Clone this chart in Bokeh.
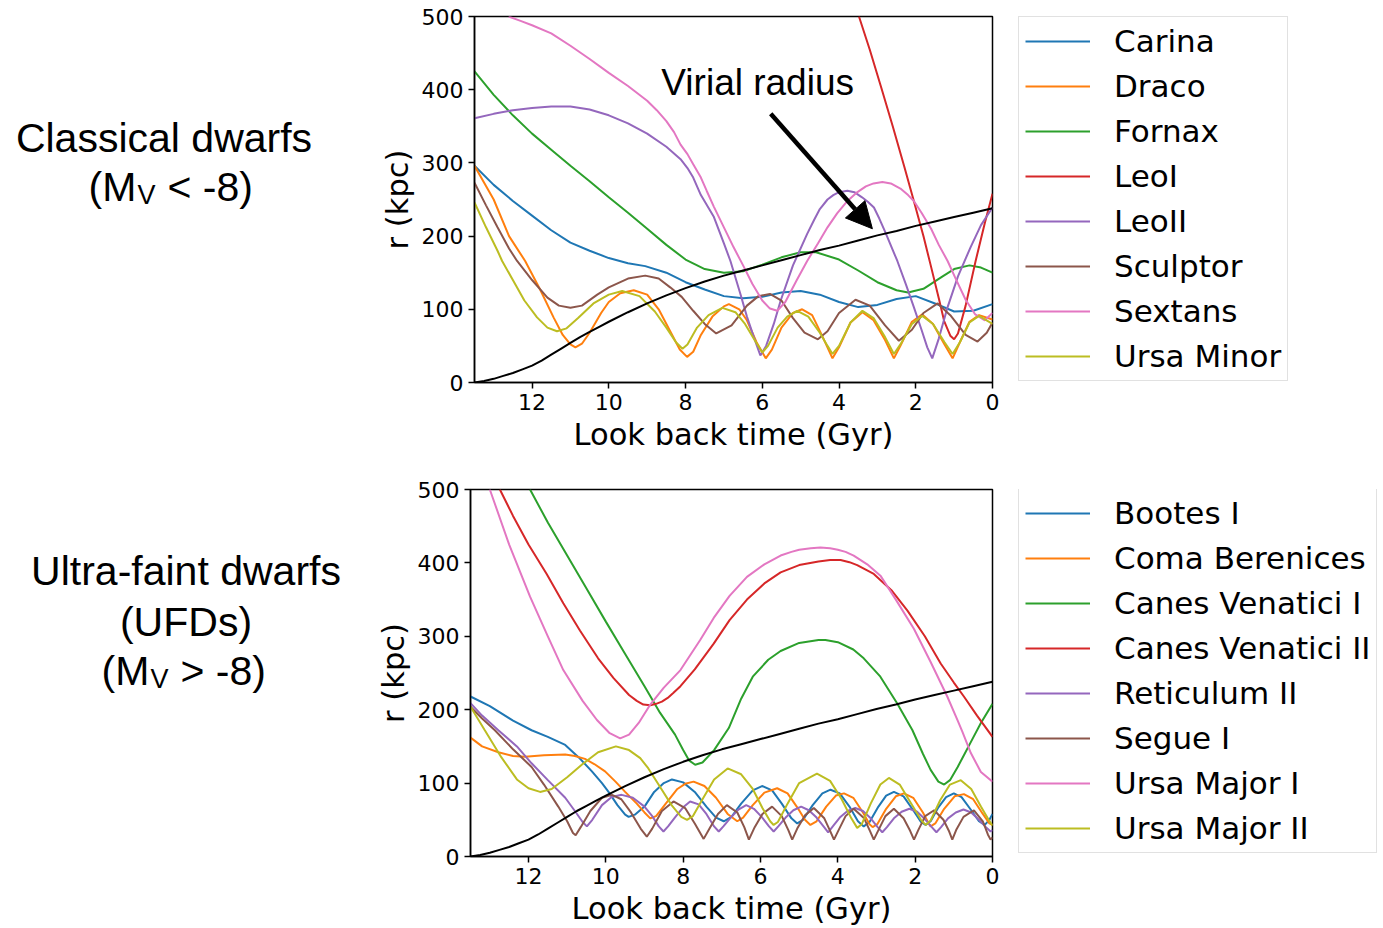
from bokeh.plotting import figure
from bokeh.models import Range1d, FixedTicker, Legend, LegendItem, Arrow, NormalHead, Label
from bokeh.layouts import row, column
from bokeh.embed import file_html
from bokeh.resources import INLINE
from bokeh.core.properties import value

# ---------------------------------------------------------------
# Orbital histories: look-back time (Gyr) and distance r (kpc)
# ---------------------------------------------------------------

# Milky Way virial radius
virial_t = [13.5, 13.25, 13.0, 12.75, 12.5, 12.25, 12.0, 11.75, 11.5, 11.25, 11.0, 10.75, 10.5, 10.25, 10.0, 9.5, 9.0, 8.5, 8.0, 7.5, 7.0, 6.5, 6.0, 5.5, 5.0, 4.5, 4.0, 3.5, 3.0, 2.5, 2.0, 1.5, 1.0, 0.5, 0.0]
virial_r = [0, 2, 5, 9, 13, 18, 23, 30, 38, 46, 54, 62, 69, 76, 83, 96, 108, 119, 129, 138, 146, 153, 160, 167, 174, 181, 187, 194, 201, 207, 214, 220, 226, 232, 238]

# Classical dwarfs
carina_t = [13.5, 13.0, 12.5, 12.0, 11.5, 11.0, 10.5, 10.0, 9.5, 9.05, 8.5, 8.0, 7.5, 7.0, 6.5, 6.0, 5.5, 5.0, 4.5, 4.0, 3.5, 3.0, 2.5, 2.0, 1.5, 1.0, 0.5, 0.0]
carina_r = [296, 270, 248, 228, 208, 191, 180, 170, 163, 159, 150, 137, 127, 118, 115, 117, 123, 125, 120, 110, 103, 106, 114, 118, 108, 97, 98, 107]

draco_t = [13.5, 13.0, 12.6, 12.18, 11.8, 11.44, 11.2, 11.0, 10.87, 10.7, 10.5, 10.2, 10.0, 9.7, 9.35, 9.0, 8.7, 8.4, 8.15, 7.96, 7.8, 7.6, 7.3, 7.0, 6.87, 6.6, 6.4, 6.15, 5.91, 5.75, 5.5, 5.2, 4.96, 4.7, 4.45, 4.17, 4.0, 3.7, 3.39, 3.1, 2.8, 2.57, 2.4, 2.1, 1.83, 1.55, 1.25, 1.04, 0.85, 0.6, 0.35, 0.0]
draco_r = [296, 250, 200, 166, 128, 89, 65, 52, 48, 53, 68, 95, 110, 122, 126, 120, 100, 70, 45, 35, 42, 65, 90, 104, 107, 100, 85, 55, 33, 45, 75, 95, 100, 92, 65, 33, 48, 82, 96, 85, 58, 33, 50, 83, 93, 80, 52, 33, 55, 83, 92, 86]

fornax_t = [13.5, 13.0, 12.5, 12.0, 11.5, 11.0, 10.5, 10.0, 9.5, 9.0, 8.5, 8.0, 7.5, 7.0, 6.5, 6.0, 5.5, 5.0, 4.6, 4.0, 3.5, 3.0, 2.5, 2.2, 1.8, 1.3, 1.0, 0.6, 0.3, 0.0]
fornax_r = [425, 393, 365, 340, 318, 296, 275, 253, 232, 210, 188, 168, 155, 150, 152, 161, 171, 178, 178, 168, 153, 137, 126, 123, 128, 145, 155, 160, 157, 150]

leo1_t = [3.48, 3.2, 2.9, 2.6, 2.3, 2.05, 1.8, 1.61, 1.4, 1.26, 1.1, 1.0, 0.9, 0.7, 0.44, 0.2, 0.0]
leo1_r = [500, 455, 403, 350, 295, 248, 200, 160, 115, 84, 64, 59, 67, 105, 166, 218, 258]

leo2_t = [13.5, 13.0, 12.5, 12.0, 11.5, 11.0, 10.5, 10.0, 9.5, 9.0, 8.5, 8.3, 8.13, 7.95, 7.8, 7.6, 7.26, 7.0, 6.83, 6.57, 6.4, 6.22, 6.05, 5.9, 5.7, 5.52, 5.2, 4.83, 4.65, 4.5, 4.3, 4.15, 4.0, 3.78, 3.6, 3.4, 3.25, 3.09, 2.95, 2.8, 2.48, 2.25, 2.05, 1.85, 1.7, 1.57, 1.4, 1.17, 0.9, 0.57, 0.3, 0.0]
leo2_r = [361, 367, 372, 375, 377, 377, 373, 365, 354, 340, 322, 313, 305, 293, 280, 256, 226, 190, 166, 121, 90, 62, 37, 50, 80, 112, 160, 203, 222, 237, 250, 256, 260, 262, 260, 253, 247, 239, 224, 206, 166, 133, 103, 72, 48, 33, 60, 103, 145, 185, 215, 239]

sculptor_t = [13.5, 13.2, 12.9, 12.6, 12.39, 12.0, 11.6, 11.3, 11.0, 10.7, 10.3, 10.0, 9.5, 9.05, 8.7, 8.4, 8.1, 7.8, 7.5, 7.2, 6.8, 6.4, 6.1, 5.8, 5.5, 5.2, 4.9, 4.55, 4.3, 4.0, 3.57, 3.2, 2.8, 2.44, 2.1, 1.8, 1.43, 1.1, 0.7, 0.39, 0.15, 0.0]
sculptor_r = [273, 242, 212, 183, 166, 140, 116, 105, 102, 105, 120, 130, 142, 146, 142, 130, 117, 98, 80, 67, 78, 105, 118, 121, 112, 88, 68, 59, 70, 95, 113, 105, 78, 57, 72, 95, 108, 92, 65, 56, 68, 82]

sextans_t = [12.61, 12.3, 12.0, 11.5, 11.0, 10.5, 10.0, 9.5, 9.0, 8.75, 8.5, 8.3, 8.13, 7.95, 7.8, 7.6, 7.45, 7.26, 7.0, 6.75, 6.5, 6.26, 6.0, 5.8, 5.61, 5.4, 5.1, 4.83, 4.55, 4.3, 4.05, 3.78, 3.55, 3.3, 3.1, 2.87, 2.65, 2.4, 2.2, 2.05, 1.85, 1.6, 1.4, 1.17, 0.96, 0.7, 0.45, 0.2, 0.0]
sextans_r = [500, 494, 488, 477, 460, 442, 423, 405, 385, 372, 357, 342, 325, 312, 298, 280, 262, 240, 212, 185, 160, 135, 112, 101, 98, 110, 140, 166, 190, 212, 231, 248, 259, 268, 272, 274, 272, 265, 256, 248, 232, 210, 188, 166, 142, 113, 93, 85, 95]

umi_t = [13.5, 13.2, 12.9, 12.78, 12.5, 12.2, 11.87, 11.6, 11.35, 11.1, 10.8, 10.4, 10.0, 9.65, 9.2, 8.8, 8.5, 8.25, 8.08, 7.95, 7.7, 7.4, 7.04, 6.7, 6.45, 6.2, 6.0, 5.85, 5.6, 5.35, 5.09, 4.8, 4.5, 4.3, 4.17, 4.0, 3.7, 3.39, 3.1, 2.8, 2.57, 2.4, 2.1, 1.83, 1.55, 1.25, 1.04, 0.85, 0.6, 0.35, 0.0]
umi_r = [246, 212, 180, 166, 140, 112, 89, 75, 70, 74, 88, 108, 120, 125, 118, 97, 75, 55, 46, 52, 75, 92, 102, 96, 80, 58, 41, 50, 75, 90, 98, 90, 68, 50, 39, 50, 82, 98, 88, 62, 39, 52, 80, 91, 80, 55, 39, 55, 82, 91, 80]

# Ultra-faint dwarfs
boo1_t = [13.5, 13.0, 12.4, 11.92, 11.5, 11.05, 10.7, 10.36, 10.1, 9.93, 9.7, 9.5, 9.41, 9.25, 9.0, 8.75, 8.5, 8.29, 8.0, 7.7, 7.4, 7.15, 6.95, 6.75, 6.5, 6.2, 5.96, 5.7, 5.45, 5.2, 5.05, 4.9, 4.65, 4.4, 4.19, 3.95, 3.7, 3.48, 3.33, 3.18, 2.95, 2.75, 2.55, 2.3, 2.05, 1.85, 1.73, 1.6, 1.4, 1.2, 1.0, 0.8, 0.55, 0.35, 0.2, 0.08, 0.0]
boo1_r = [218, 205, 185, 172, 163, 152, 135, 116, 100, 88, 70, 57, 54, 57, 68, 88, 100, 105, 101, 88, 68, 53, 48, 54, 72, 90, 96, 90, 72, 52, 45, 50, 70, 86, 91, 86, 68, 48, 41, 47, 68, 83, 88, 82, 63, 47, 43, 48, 67, 81, 86, 81, 63, 48, 43, 50, 58]

coma_t = [13.5, 13.2, 12.78, 12.4, 12.09, 11.6, 11.05, 10.8, 10.54, 10.3, 10.02, 9.75, 9.5, 9.2, 9.0, 8.85, 8.7, 8.45, 8.15, 7.95, 7.73, 7.45, 7.15, 6.85, 6.6, 6.45, 6.2, 5.9, 5.57, 5.3, 5.05, 4.85, 4.71, 4.55, 4.3, 4.05, 3.84, 3.6, 3.35, 3.18, 3.1, 2.98, 2.75, 2.5, 2.29, 2.05, 1.8, 1.65, 1.6, 1.48, 1.25, 0.98, 0.74, 0.5, 0.25, 0.08, 0.0]
coma_r = [162, 150, 142, 137, 136, 138, 139, 137, 133, 126, 116, 102, 88, 72, 60, 52, 55, 72, 92, 99, 102, 96, 80, 58, 48, 53, 70, 87, 93, 86, 67, 50, 43, 48, 68, 83, 86, 80, 60, 44, 40, 44, 65, 82, 86, 80, 60, 45, 41, 45, 65, 82, 85, 78, 58, 45, 43]

cvn1_t = [11.96, 11.5, 11.0, 10.5, 10.0, 9.5, 9.0, 8.6, 8.21, 8.0, 7.85, 7.69, 7.5, 7.2, 6.82, 6.5, 6.2, 5.8, 5.48, 5.0, 4.5, 4.32, 4.0, 3.6, 3.33, 2.9, 2.46, 2.07, 1.8, 1.6, 1.4, 1.25, 1.1, 0.9, 0.74, 0.5, 0.3, 0.0]
cvn1_r = [500, 455, 410, 365, 320, 276, 232, 196, 166, 145, 131, 125, 128, 145, 175, 215, 245, 268, 280, 291, 295, 295, 292, 282, 270, 245, 208, 172, 140, 118, 102, 98, 104, 122, 138, 162, 182, 208]

cvn2_t = [12.74, 12.4, 12.0, 11.53, 11.1, 10.67, 10.2, 9.8, 9.4, 9.2, 9.03, 8.85, 8.7, 8.55, 8.4, 8.25, 8.07, 7.7, 7.21, 6.8, 6.35, 5.9, 5.48, 5.0, 4.5, 4.2, 3.93, 3.7, 3.5, 3.07, 2.6, 2.2, 1.75, 1.34, 1.0, 0.74, 0.4, 0.0]
cvn2_r = [500, 464, 425, 385, 345, 308, 270, 243, 220, 212, 207, 206, 208, 211, 216, 223, 232, 255, 290, 322, 350, 372, 387, 397, 402, 404, 404, 401, 397, 385, 362, 335, 300, 263, 237, 218, 192, 163]

ret2_t = [13.5, 13.2, 12.78, 12.3, 11.92, 11.5, 11.05, 10.8, 10.6, 10.49, 10.35, 10.1, 9.85, 9.59, 9.3, 9.0, 8.8, 8.63, 8.51, 8.39, 8.2, 8.0, 7.82, 7.6, 7.4, 7.2, 7.08, 6.96, 6.77, 6.57, 6.37, 6.17, 5.97, 5.78, 5.66, 5.54, 5.35, 5.15, 4.95, 4.75, 4.55, 4.37, 4.25, 4.13, 3.95, 3.75, 3.55, 3.35, 3.15, 2.97, 2.85, 2.73, 2.55, 2.35, 2.15, 1.95, 1.75, 1.57, 1.45, 1.33, 1.15, 0.95, 0.75, 0.55, 0.35, 0.17, 0.05, 0.0]
ret2_r = [209, 192, 172, 150, 127, 104, 80, 62, 47, 41, 50, 70, 81, 84, 80, 68, 55, 41, 34, 41, 54, 67, 75, 71, 58, 41, 34, 41, 53, 64, 70, 65, 54, 41, 34, 41, 53, 63, 68, 63, 53, 41, 33, 41, 53, 62, 66, 62, 52, 40, 33, 40, 52, 61, 65, 61, 51, 40, 33, 40, 52, 60, 64, 60, 50, 40, 34, 36]

seg1_t = [13.5, 13.2, 12.87, 12.4, 11.92, 11.6, 11.23, 11.0, 10.85, 10.78, 10.65, 10.4, 10.1, 9.84, 9.6, 9.35, 9.1, 8.94, 8.8, 8.55, 8.25, 7.95, 7.7, 7.47, 7.3, 7.1, 6.87, 6.6, 6.42, 6.3, 6.15, 5.95, 5.7, 5.45, 5.28, 5.18, 5.05, 4.85, 4.62, 4.35, 4.2, 4.1, 3.98, 3.8, 3.59, 3.32, 3.17, 3.07, 2.95, 2.77, 2.55, 2.3, 2.13, 2.03, 1.92, 1.74, 1.51, 1.27, 1.12, 1.04, 0.94, 0.75, 0.48, 0.25, 0.12, 0.05, 0.0]
seg1_r = [204, 188, 172, 146, 122, 98, 68, 48, 32, 29, 40, 62, 80, 84, 78, 60, 38, 27, 38, 62, 75, 66, 45, 24, 40, 58, 70, 60, 40, 23, 40, 58, 68, 55, 36, 23, 38, 56, 66, 52, 35, 23, 36, 55, 65, 52, 35, 23, 36, 55, 65, 52, 35, 23, 36, 55, 63, 50, 34, 23, 36, 54, 63, 48, 30, 23, 26]

uma1_t = [13.0, 12.5, 11.96, 11.5, 11.1, 10.6, 10.23, 9.9, 9.63, 9.4, 9.15, 8.85, 8.5, 8.07, 7.56, 7.21, 6.8, 6.35, 5.9, 5.48, 5.2, 5.0, 4.7, 4.45, 4.2, 4.0, 3.8, 3.59, 3.24, 2.89, 2.5, 2.03, 1.6, 1.17, 0.9, 0.78, 0.56, 0.3, 0.0]
uma1_r = [500, 425, 354, 300, 254, 212, 186, 168, 161, 166, 182, 207, 230, 254, 295, 325, 355, 381, 398, 410, 415, 418, 420, 421, 420, 418, 415, 410, 398, 382, 350, 310, 265, 218, 185, 170, 141, 115, 102]

uma2_t = [13.5, 13.13, 12.7, 12.3, 12.0, 11.7, 11.4, 11.0, 10.6, 10.2, 9.74, 9.4, 9.11, 8.9, 8.6, 8.3, 8.05, 7.9, 7.75, 7.5, 7.2, 6.85, 6.5, 6.2, 5.95, 5.75, 5.66, 5.55, 5.3, 5.0, 4.54, 4.2, 3.9, 3.65, 3.5, 3.38, 3.15, 2.9, 2.68, 2.4, 2.1, 1.85, 1.73, 1.6, 1.35, 1.1, 0.82, 0.55, 0.3, 0.1, 0.0]
uma2_r = [204, 172, 135, 105, 93, 88, 92, 108, 126, 142, 150, 145, 134, 120, 95, 70, 54, 50, 55, 78, 105, 120, 112, 92, 66, 48, 43, 47, 72, 100, 113, 103, 78, 52, 39, 44, 72, 98, 107, 98, 72, 50, 43, 49, 77, 98, 104, 92, 68, 50, 42]

classical_names = ["Carina", "Draco", "Fornax", "LeoI", "LeoII", "Sculptor", "Sextans", "Ursa Minor"]
classical_series = [(carina_t, carina_r), (draco_t, draco_r), (fornax_t, fornax_r), (leo1_t, leo1_r),
                    (leo2_t, leo2_r), (sculptor_t, sculptor_r), (sextans_t, sextans_r), (umi_t, umi_r)]

ufd_names = ["Bootes I", "Coma Berenices", "Canes Venatici I", "Canes Venatici II",
             "Reticulum II", "Segue I", "Ursa Major I", "Ursa Major II"]
ufd_series = [(boo1_t, boo1_r), (coma_t, coma_r), (cvn1_t, cvn1_r), (cvn2_t, cvn2_r),
              (ret2_t, ret2_r), (seg1_t, seg1_r), (uma1_t, uma1_r), (uma2_t, uma2_r)]

palette = ["#1f77b4", "#ff7f0e", "#2ca02c", "#d62728", "#9467bd", "#8c564b", "#e377c2", "#bcbd22"]
time_ticks = [0, 2, 4, 6, 8, 10, 12]
r_ticks = [0, 100, 200, 300, 400, 500]

AXIS_FONT = "DejaVu Sans"
SIDE_FONT = value("Liberation Sans")
ROW_H = 464
LEGEND_W = 379


def blank_panel(width, frame_top, frame_bottom):
    # a bare panel whose frame lines up with the neighbouring plot frame;
    # its ranges are the row's own pixel columns and rows
    s = figure(width=width, height=ROW_H, x_range=Range1d(0, width),
               y_range=Range1d(frame_bottom, frame_top),
               output_backend="svg", toolbar_location=None, x_axis_type=None, y_axis_type=None,
               min_border=0)
    s.outline_line_color = None
    s.xgrid.visible = False
    s.ygrid.visible = False
    s.background_fill_color = "white"
    s.border_fill_color = "white"
    return s


def orbit_panel(width, series, border_top, border_bottom):
    p = figure(width=width, height=ROW_H, x_range=Range1d(13.5, 0), y_range=Range1d(0, 500),
               output_backend="svg", toolbar_location=None,
               min_border_left=98, min_border_right=12,
               min_border_top=border_top, min_border_bottom=border_bottom)
    p.background_fill_color = "white"
    p.border_fill_color = "white"
    p.xgrid.visible = False
    p.ygrid.visible = False
    p.outline_line_color = "black"
    p.outline_line_width = 1.5
    p.outline_line_alpha = 1.0

    p.xaxis.ticker = FixedTicker(ticks=time_ticks)
    p.yaxis.ticker = FixedTicker(ticks=r_ticks)
    p.xaxis.axis_label = "Look back time (Gyr)"
    p.yaxis.axis_label = "r (kpc)"
    for ax in (p.xaxis[0], p.yaxis[0]):
        ax.major_label_text_font = AXIS_FONT
        ax.major_label_text_font_size = "22px"
        ax.major_label_text_color = "black"
        ax.major_label_standoff = 5
        ax.axis_label_text_font = AXIS_FONT
        ax.axis_label_text_font_size = "30.5px"
        ax.axis_label_text_font_style = "normal"
        ax.axis_label_text_color = "black"
        ax.axis_label_standoff = 4
        ax.axis_line_color = "black"
        ax.axis_line_width = 1.5
        ax.major_tick_line_color = "black"
        ax.major_tick_line_width = 1.5
        ax.major_tick_out = 6
        ax.major_tick_in = 0
        ax.minor_tick_line_color = None

    for (t, r), color in zip(series, palette):
        p.line(t, r, line_color=color, line_width=2)
    p.line(virial_t, virial_r, line_color="black", line_width=2)
    return p


def legend_panel(names, frame_top, frame_bottom, legend_y):
    lp = blank_panel(LEGEND_W, frame_top, frame_bottom)
    items = []
    for name, color in zip(names, palette):
        # key renderer kept left of the panel's visible range; only its
        # line style is used, by the legend entry
        key = lp.line(x=[-60, -40], y=[frame_top, frame_top], line_color=color, line_width=2.2)
        items.append(LegendItem(label=name, renderers=[key]))
    legend = Legend(items=items, location=(14, legend_y))
    legend.label_text_font = AXIS_FONT
    legend.label_text_font_size = "31px"
    legend.label_text_color = "black"
    legend.label_standoff = 24
    legend.label_height = 36
    legend.glyph_width = 65
    legend.glyph_height = 36
    legend.spacing = 9
    legend.padding = 6
    legend.margin = 0
    legend.border_line_color = "#c4c4c4"
    legend.border_line_width = 1.5
    legend.background_fill_color = "white"
    legend.background_fill_alpha = 1.0
    lp.add_layout(legend)
    return lp


big = dict(text_font=SIDE_FONT, text_font_size="41px", text_color="black", text_baseline="alphabetic")
sub = dict(text_font=SIDE_FONT, text_font_size="27px", text_color="black", text_baseline="alphabetic")

# Classical dwarfs row
side_top = blank_panel(376, 16, 382)
side_top.text(x=[163.5], y=[137], text=["Classical dwarfs"], text_align="center", **big)
side_top.text(x=[88, 167], y=[186, 186], text=["(M", "< -8)"], text_align="left", **big)
side_top.text(x=[137], y=[194], text=["V"], text_align="left", **sub)

top = orbit_panel(628, classical_series, 16, 82)
top.add_layout(Label(x=6.12, y=410, text="Virial radius", text_align="center",
                     text_baseline="alphabetic", text_font="Liberation Sans",
                     text_font_size="37px", text_color="black"))
top.add_layout(Arrow(end=NormalHead(size=26, fill_color="black", line_color="black"),
                     x_start=5.78, y_start=367, x_end=3.13, y_end=210,
                     line_color="black", line_width=4.5))
legend_top = legend_panel(classical_names, 16, 382, 1)

# Ultra-faint dwarfs row
side_bottom = blank_panel(372, 25, 393)
side_bottom.text(x=[185.5, 185.5], y=[107, 158], text=["Ultra-faint dwarfs", "(UFDs)"],
                 text_align="center", **big)
side_bottom.text(x=[101, 180], y=[207, 207], text=["(M", "> -8)"], text_align="left", **big)
side_bottom.text(x=[150], y=[215], text=["V"], text_align="left", **sub)

bottom = orbit_panel(632, ufd_series, 25, 71)
legend_bottom = legend_panel(ufd_names, 25, 393, 3)

layout = column(row(side_top, top, legend_top), row(side_bottom, bottom, legend_bottom))

open("out.html", "w").write(file_html(layout, INLINE))
